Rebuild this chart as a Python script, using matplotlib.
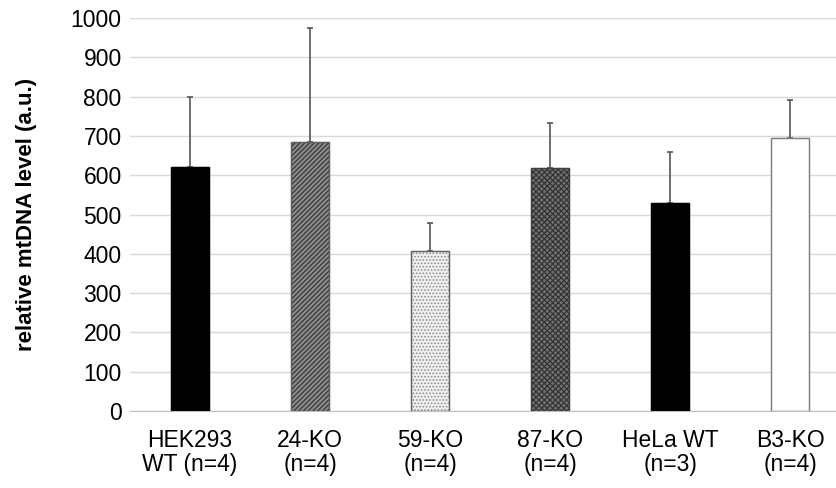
import matplotlib.pyplot as plt
import numpy as np

plt.rcParams['font.family'] = ['Liberation Sans', 'DejaVu Sans']
plt.rcParams['hatch.linewidth'] = 0.8

# mtDNA levels per cell line
labels = ['HEK293\nWT (n=4)', '24-KO\n(n=4)', '59-KO\n(n=4)', '87-KO\n(n=4)', 'HeLa WT\n(n=3)', 'B3-KO\n(n=4)']
means = [621, 684, 407, 618, 529, 695]
sds = [178, 291, 71, 115, 130, 96]

faces = ['black', '#8a8a8a', '#f0f0f0', '#707070', 'black', 'white']
hatches = [None, '///////', '.....', 'xxxxxx', None, None]
hatch_cols = ['black', '#303030', '#909090', '#303030', 'black', '#808080']
edges = ['black', '#606060', '#606060', '#404040', 'black', '#808080']

fig = plt.figure(figsize=(8.37, 4.88), dpi=100)
ax = fig.add_axes([130/837, 1-411/488, 1-130/837, (411-18)/488])

x = np.arange(len(labels))
for i in range(len(labels)):
    ax.bar(x[i], means[i], width=0.32, color=faces[i], edgecolor=hatch_cols[i],
           hatch=hatches[i], linewidth=0.8, zorder=3)
    ax.bar(x[i], means[i], width=0.32, fill=False, edgecolor=edges[i], linewidth=1.0, zorder=4)
ax.errorbar(x, means, yerr=[np.zeros(len(sds)), sds], fmt='none', ecolor='#555555',
            elinewidth=1.2, capsize=2.3, capthick=1.2, zorder=2)

ax.set_ylim(0, 1000)
ax.set_xlim(-0.5, 5.39)
ax.set_yticks(np.arange(0, 1001, 100))
ax.yaxis.grid(True, color='#d9d9d9', linewidth=1)
ax.set_axisbelow(True)
for s in ['top', 'right', 'left']:
    ax.spines[s].set_visible(False)
ax.spines['bottom'].set_color('#bfbfbf')
ax.tick_params(axis='both', length=0, labelsize=16.5, pad=6)
ax.set_xticks(x)
ax.set_xticklabels(labels, linespacing=1.05)
ax.tick_params(axis='x', pad=13)
ax.set_ylabel('relative mtDNA level (a.u.)', fontsize=16, fontweight='bold')
ax.yaxis.set_label_coords(-93/707, 0.5)

fig.savefig('out.png', dpi=100)
